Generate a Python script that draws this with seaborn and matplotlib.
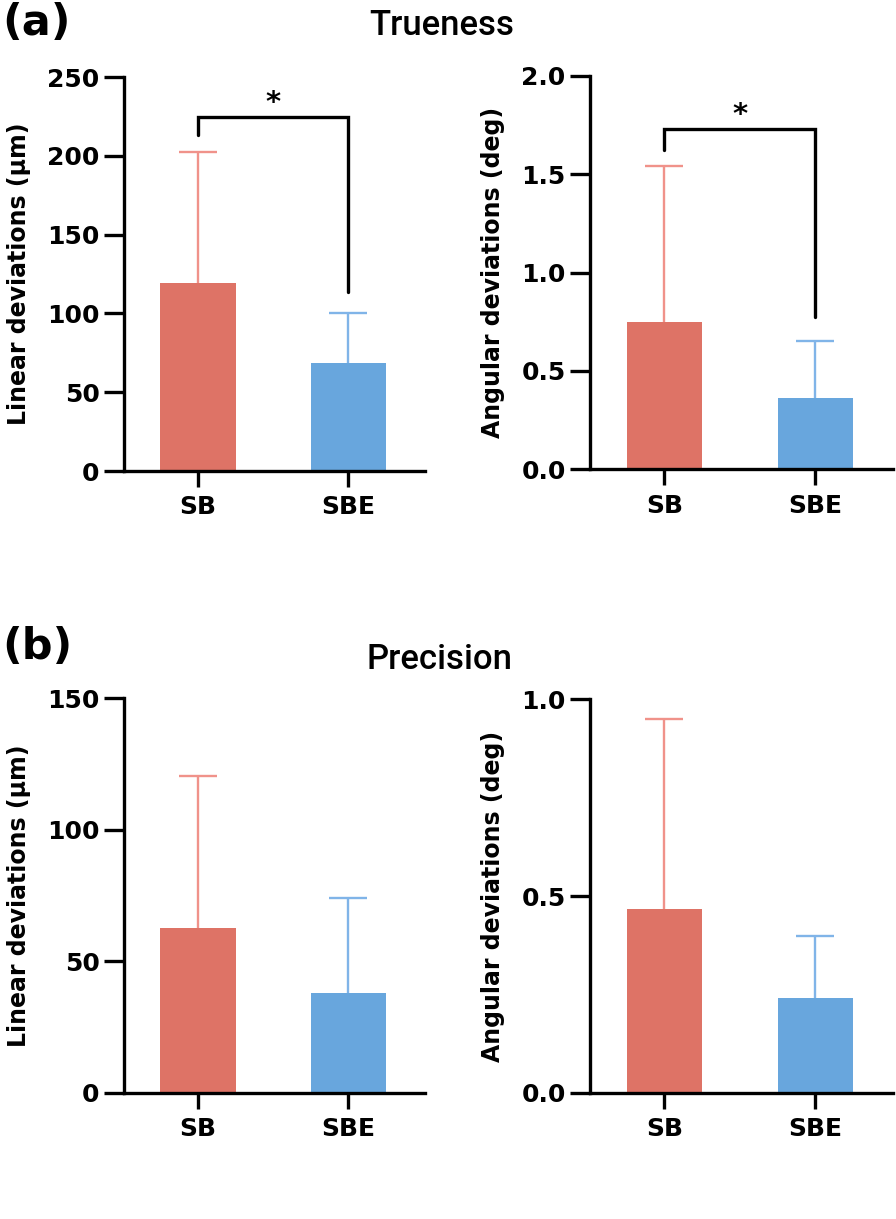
import numpy as np
import pandas as pd
import matplotlib
matplotlib.use('Agg')
import matplotlib.pyplot as plt
import seaborn as sns

# ===== data (mean / SD) =====
groups = ['SB', 'SBE']

true_lin_mean = [119.0, 68.7]
true_lin_sd = [83.6, 31.3]
true_ang_mean = [0.747, 0.361]
true_ang_sd = [0.795, 0.293]

prec_lin_mean = [62.5, 37.8]
prec_lin_sd = [58.1, 36.1]
prec_ang_mean = [0.467, 0.240]
prec_ang_sd = [0.484, 0.159]

# significance brackets: (top, left leg end, right leg end)
true_lin_sig = [224.8, 213.0, 113.8]
true_ang_sig = [1.729, 1.623, 0.776]

bar_colors = ['#DE7366', '#68A6DD']
err_colors = ['#F0928A', '#80B4E8']

# ===== style =====
sns.set_style('ticks')
plt.rcParams['font.family'] = ['DejaVu Sans']
plt.rcParams['font.weight'] = 'bold'
plt.rcParams['axes.linewidth'] = 2.4
for k in ['text.color', 'axes.edgecolor', 'axes.labelcolor', 'xtick.color', 'ytick.color']:
    plt.rcParams[k] = 'black'

fig = plt.figure(figsize=(8.96, 12.19), dpi=100)


def bar_panel(rect, mean, sd, ymax, yticks, fmt, ylabel, sig=None):
    ax = fig.add_axes(rect)
    df = pd.DataFrame({'group': groups, 'value': mean})
    sns.barplot(data=df, x='group', y='value', hue='group', palette=bar_colors,
                saturation=1, width=0.5, legend=False, ax=ax, edgecolor='none', zorder=2)
    for i, g in enumerate(groups):
        # upper half of the SD bar only
        ax.errorbar(i, mean[i], yerr=[[0], [sd[i]]], fmt='none', ecolor=err_colors[i],
                    elinewidth=1.7, capsize=0, zorder=1)
        ax.plot(i, mean[i] + sd[i], marker='_', markersize=27, mew=1.7,
                color=err_colors[i], zorder=1)
    if sig is not None:
        top, left_end, right_end = sig
        ax.plot([0, 0, 1, 1], [left_end, top, top, right_end], color='black',
                lw=2.4, solid_joinstyle='miter', zorder=3)
        ax.annotate('*', xy=(0.5, top), xytext=(0, 0), textcoords='offset points',
                    ha='center', va='bottom', fontsize=21, fontweight='bold')
    ax.set_xlim(-0.493, 1.513)
    ax.set_ylim(0, ymax)
    ax.set_yticks(yticks)
    ax.set_yticklabels([fmt.format(t) for t in yticks])
    ax.set_xlabel('')
    ax.set_ylabel(ylabel, fontsize=17, fontweight='bold', labelpad=12)
    ax.tick_params(axis='y', length=14.5, width=2.4, labelsize=18, pad=3)
    ax.tick_params(axis='x', length=11.5, width=2.4, labelsize=18, pad=6)
    for lab in ax.get_xticklabels() + ax.get_yticklabels():
        lab.set_fontweight('bold')
    sns.despine(ax=ax)
    return ax


bar_panel([0.1384, 0.6136, 0.336, 0.3232], true_lin_mean, true_lin_sd, 250,
          [0, 50, 100, 150, 200, 250], '{:.0f}', 'Linear deviations (µm)', true_lin_sig)
bar_panel([0.6585, 0.615, 0.338, 0.3227], true_ang_mean, true_ang_sd, 2.0,
          [0.0, 0.5, 1.0, 1.5, 2.0], '{:.1f}', 'Angular deviations (deg)', true_ang_sig)
bar_panel([0.1384, 0.1036, 0.336, 0.3235], prec_lin_mean, prec_lin_sd, 150,
          [0, 50, 100, 150], '{:.0f}', 'Linear deviations (µm)')
bar_panel([0.6585, 0.1036, 0.338, 0.3227], prec_ang_mean, prec_ang_sd, 1.0,
          [0.0, 0.5, 1.0], '{:.1f}', 'Angular deviations (deg)')

# panel letters and titles
fig.text(0.002, 0.981, '(a)', fontsize=31, fontweight='bold', ha='left', va='center')
fig.text(0.002, 0.469, '(b)', fontsize=31, fontweight='bold', ha='left', va='center')
fig.text(0.493, 0.979, 'Trueness', fontsize=25, fontweight='medium',
         family=['Roboto', 'DejaVu Sans'], ha='center', va='center')
fig.text(0.491, 0.459, 'Precision', fontsize=25, fontweight='medium',
         family=['Roboto', 'DejaVu Sans'], ha='center', va='center')

fig.savefig('out.png', dpi=100, facecolor='white')
